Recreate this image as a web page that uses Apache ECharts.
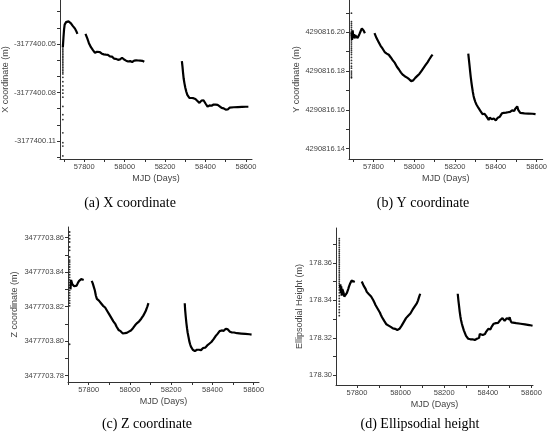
<!DOCTYPE html>
<html>
<head>
<meta charset="utf-8">
<script src="https://cdn.jsdelivr.net/npm/echarts@6/dist/echarts.min.js"></script>
<style>
  html, body { margin: 0; padding: 0; background: #fff; }
  #chart { width: 550px; height: 438px; }
</style>
</head>
<body>
<div id="chart"></div>
<script>
// offsets are added to these bases for the tick labels
const X_BASE = -3177400;
const Y_BASE = 4290816;
const Z_BASE = 3477703;
const H_BASE = 178;

const captions = ["(a) X coordinate", "(b) Y coordinate", "(c) Z coordinate", "(d) Ellipsodial height"];
const yNames = ["X coordinate (m)", "Y coordinate (m)", "Z coordinate (m)", "Ellipsodial Height (m)"];
const mjdTicks = [57800, 58000, 58200, 58400, 58600];
const mjdMinor = [57700, 57800, 57900, 58000, 58100, 58200, 58300, 58400, 58500, 58600];

// (a) X coordinate, null = data gap
const mjdA = [57694, 57697, 57700, 57703, 57706, 57710, 57714, 57718, 57722, 57726, 57730, 57734, 57738, 57742, 57746, 57750, 57754, 57758, 57762, 57766,
  null,
  57806, 57810, 57815, 57819, 57823, 57828, 57833, 57838, 57843, 57848, 57853, 57858, 57863, 57868, 57872, 57877, 57882, 57887, 57892, 57897,
  57902, 57907, 57912, 57917, 57922, 57927, 57932, 57937, 57942, 57947, 57952, 57957, 57962, 57967, 57972, 57977, 57982, 57987, 57992, 57997,
  58002, 58007, 58012, 58017, 58022, 58027, 58032, 58037, 58042, 58047, 58052, 58057, 58062, 58067, 58072, 58077, 58082, 58087, 58092, 58097,
  null,
  58283, 58286, 58289, 58292, 58296, 58300, 58305, 58310, 58315, 58320, 58325, 58330, 58335, 58340, 58345, 58350, 58355, 58360, 58365, 58370,
  58375, 58380, 58385, 58390, 58395, 58400, 58405, 58410, 58415, 58420, 58425, 58430, 58435, 58440, 58445, 58450, 58455, 58460, 58465, 58470,
  58475, 58480, 58485, 58490, 58495, 58500, 58505, 58510, 58515, 58520, 58525, 58540, 58560, 58580, 58600, 58612];
const valA = [-0.052, -0.046, -0.041, -0.038, -0.037, -0.0365, -0.037, -0.0358, -0.036, -0.0362, -0.0368, -0.0372, -0.038, -0.0386, -0.039, -0.0397, -0.0405, -0.0415, -0.0425, -0.0437,
  null,
  -0.0437, -0.0448, -0.0465, -0.048, -0.0495, -0.0505, -0.052, -0.0532, -0.0538, -0.0548, -0.0555, -0.0553, -0.0548, -0.0542, -0.0545, -0.055, -0.0556, -0.056, -0.0565, -0.0564,
  -0.0568, -0.0566, -0.0563, -0.0567, -0.0572, -0.0576, -0.058, -0.0578, -0.0584, -0.059, -0.0594, -0.0592, -0.0596, -0.0598, -0.0591, -0.0595, -0.0588, -0.0585, -0.059, -0.0596,
  -0.06, -0.0603, -0.0605, -0.0608, -0.061, -0.0606, -0.0609, -0.0611, -0.0607, -0.0603, -0.06, -0.0601, -0.0604, -0.0602, -0.06, -0.0603, -0.0601, -0.0604, -0.0608, -0.061,
  null,
  -0.0606, -0.064, -0.068, -0.0715, -0.0745, -0.077, -0.0795, -0.0815, -0.0826, -0.0833, -0.083, -0.0834, -0.0831, -0.0835, -0.0834, -0.084, -0.0846, -0.0852, -0.0858, -0.0864,
  -0.0858, -0.085, -0.0855, -0.0848, -0.0856, -0.0868, -0.088, -0.0887, -0.0886, -0.088, -0.0884, -0.0882, -0.0876, -0.0874, -0.0878, -0.0875, -0.0872, -0.0876, -0.088, -0.0885,
  -0.089, -0.0895, -0.0893, -0.0898, -0.0902, -0.0906, -0.0912, -0.0905, -0.0898, -0.0893, -0.0891, -0.0891, -0.089, -0.0889, -0.0888, -0.0888];
const dotMjdA = 57694;
const dotValA = [-0.0505, -0.0515, -0.0525, -0.0535, -0.0545, -0.0555, -0.0565, -0.0575, -0.0585, -0.0595, -0.0605, -0.0615, -0.0625, -0.0635, -0.0645,
  -0.0655, -0.0665, -0.0675, -0.0685, -0.0706, -0.0733, -0.0759, -0.0784, -0.0804, -0.0829, -0.0886, -0.0937, -0.0967, -0.1049, -0.111, -0.1131, -0.1192];

// (b) Y coordinate
const mjdB = [57692, 57695, 57698, 57701, 57704, 57707, 57710, 57713, 57716, 57719, 57722, 57725, 57728, 57731, 57734, 57737, 57740, 57743, 57746, 57749, 57752, 57755, 57758,
  null,
  57805, 57810, 57815, 57820, 57825, 57830, 57835, 57840, 57845, 57850, 57855, 57860, 57865, 57870, 57875, 57880, 57885, 57890, 57895, 57900,
  57905, 57910, 57915, 57920, 57925, 57930, 57935, 57940, 57945, 57950, 57955, 57960, 57965, 57970, 57975, 57980, 57985, 57990, 57995, 58000,
  58005, 58010, 58015, 58020, 58025, 58030, 58035, 58040, 58045, 58050, 58055, 58060, 58065, 58070, 58075, 58080, 58085, 58090,
  null,
  58265, 58268, 58271, 58274, 58277, 58280, 58283, 58287, 58291, 58295, 58300, 58305, 58310, 58315, 58320, 58325, 58330, 58335, 58340, 58345,
  58350, 58355, 58360, 58365, 58370, 58375, 58380, 58385, 58390, 58395, 58400, 58405, 58410, 58415, 58420, 58425, 58430, 58435, 58440, 58445,
  58450, 58455, 58460, 58465, 58470, 58475, 58480, 58485, 58490, 58495, 58500, 58505, 58510, 58515, 58520, 58540, 58560, 58580, 58595];
const valB = [0.2, 0.196, 0.201, 0.1975, 0.199, 0.1968, 0.1985, 0.1975, 0.199, 0.1983, 0.197, 0.1962, 0.1975, 0.199, 0.1998, 0.2005, 0.2015, 0.202, 0.2012, 0.2018, 0.2008, 0.2003, 0.1995,
  null,
  0.1995, 0.1985, 0.197, 0.1962, 0.195, 0.194, 0.193, 0.1922, 0.1915, 0.1905, 0.1898, 0.1893, 0.189, 0.1888, 0.1884, 0.1878, 0.187, 0.1862, 0.1855, 0.185,
  0.1842, 0.1832, 0.1822, 0.1815, 0.1808, 0.18, 0.1792, 0.1785, 0.178, 0.1778, 0.1772, 0.177, 0.1766, 0.1763, 0.1758, 0.1752, 0.1748, 0.1746, 0.1752, 0.176,
  0.1765, 0.177, 0.1775, 0.178, 0.1785, 0.1792, 0.18, 0.1806, 0.1815, 0.1822, 0.183, 0.1838, 0.1845, 0.1852, 0.1862, 0.187, 0.1878, 0.1885,
  null,
  0.189, 0.186, 0.183, 0.18, 0.177, 0.1745, 0.1722, 0.1695, 0.1672, 0.1655, 0.164, 0.1628, 0.1618, 0.161, 0.1602, 0.1594, 0.1586, 0.1578, 0.1575, 0.158,
  0.1573, 0.1565, 0.1555, 0.1548, 0.156, 0.1558, 0.1552, 0.156, 0.1556, 0.155, 0.1546, 0.1556, 0.156, 0.1558, 0.1565, 0.157, 0.1582, 0.1588, 0.1585, 0.159,
  0.1586, 0.1592, 0.1588, 0.1595, 0.159, 0.1594, 0.1598, 0.16, 0.1594, 0.1605, 0.1612, 0.1618, 0.16, 0.159, 0.1585, 0.1582, 0.1581, 0.158, 0.1578];
const dotMjdB = 57692;
const dotValB = [0.2098, 0.2055, 0.2045, 0.2035, 0.2025, 0.2015, 0.2005, 0.1995, 0.1985, 0.1975, 0.1965, 0.1955, 0.1945, 0.1935, 0.1925,
  0.1915, 0.1905, 0.1895, 0.1885, 0.187, 0.1855, 0.184, 0.1825, 0.1815, 0.18, 0.179, 0.178, 0.177, 0.1765];

// (c) Z coordinate
const mjdC = [57712, 57715, 57718, 57721, 57724, 57727, 57730, 57733, 57736, 57739, 57742, 57745, 57748, 57751, 57754, 57757, 57760, 57764, 57768, 57772, 57776,
  null,
  57815, 57820, 57825, 57830, 57835, 57840, 57845, 57850, 57855, 57860, 57865, 57870, 57875, 57880, 57885, 57890, 57895, 57900, 57905, 57910,
  57915, 57920, 57925, 57930, 57935, 57940, 57945, 57950, 57955, 57960, 57965, 57970, 57975, 57980, 57985, 57990, 57995, 58000, 58005, 58010,
  58015, 58020, 58025, 58030, 58035, 58040, 58045, 58050, 58055, 58060, 58065, 58070, 58075, 58080, 58085, 58090,
  null,
  58266, 58268, 58271, 58274, 58277, 58280, 58284, 58288, 58292, 58296, 58300, 58305, 58310, 58315, 58320, 58325, 58330, 58335, 58340, 58345,
  58350, 58355, 58360, 58365, 58370, 58375, 58380, 58385, 58390, 58395, 58400, 58405, 58410, 58415, 58420, 58425, 58430, 58435, 58440, 58445,
  58450, 58455, 58460, 58465, 58470, 58475, 58480, 58485, 58490, 58495, 58500, 58505, 58510, 58520, 58540, 58560, 58580, 58590];
const valC = [0.83, 0.8355, 0.8345, 0.833, 0.8335, 0.8325, 0.8318, 0.8312, 0.831, 0.8315, 0.8322, 0.833, 0.8338, 0.8344, 0.835, 0.8355, 0.8358, 0.836, 0.8356, 0.8352, 0.8355,
  null,
  0.835, 0.8335, 0.8315, 0.8295, 0.8265, 0.8245, 0.824, 0.8235, 0.8228, 0.822, 0.8215, 0.8205, 0.82, 0.8195, 0.8185, 0.8175, 0.8165, 0.8155, 0.8145, 0.8135,
  0.8125, 0.8115, 0.8105, 0.8098, 0.8085, 0.8075, 0.8065, 0.806, 0.8058, 0.8054, 0.8045, 0.8043, 0.8046, 0.805, 0.8048, 0.8052, 0.8055, 0.8058, 0.8062, 0.8068,
  0.8075, 0.8085, 0.8092, 0.8098, 0.8105, 0.8112, 0.8115, 0.8122, 0.813, 0.8138, 0.8148, 0.8158, 0.817, 0.8185, 0.8202, 0.822,
  null,
  0.822, 0.818, 0.814, 0.8105, 0.8075, 0.805, 0.8025, 0.8, 0.7982, 0.7968, 0.7957, 0.795, 0.7945, 0.7942, 0.7944, 0.795, 0.7953, 0.795, 0.7954, 0.7948,
  0.7955, 0.796, 0.7958, 0.7962, 0.797, 0.7975, 0.798, 0.7985, 0.799, 0.7995, 0.8002, 0.801, 0.8018, 0.8028, 0.8035, 0.8042, 0.805, 0.8058, 0.8065, 0.8062,
  0.8055, 0.806, 0.8068, 0.8072, 0.8075, 0.8068, 0.8062, 0.8055, 0.8058, 0.805, 0.8048, 0.805, 0.8046, 0.8046, 0.8044, 0.8042, 0.804, 0.8038];
const dotMjdC = 57708;
const dotValC = [0.8633, 0.8614, 0.8594, 0.8575, 0.8546, 0.8527, 0.8488, 0.847, 0.8459, 0.8445, 0.843, 0.8415, 0.84, 0.8385, 0.837, 0.8355, 0.834,
  0.8325, 0.831, 0.8295, 0.828, 0.8265, 0.825, 0.8235, 0.822, 0.8205, 0.7982];

// (d) Ellipsoidal height
const mjdD = [57722, 57724, 57726, 57728, 57730, 57733, 57736, 57739, 57742, 57745, 57748, 57751, 57754, 57757, 57760, 57763, 57766, 57769, 57772, 57775, 57778, 57782, 57786, 57790,
  null,
  57822, 57826, 57830, 57835, 57840, 57845, 57850, 57855, 57860, 57865, 57870, 57875, 57880, 57885, 57890, 57895, 57900, 57905, 57910, 57915,
  57920, 57925, 57930, 57935, 57940, 57945, 57950, 57955, 57960, 57965, 57970, 57975, 57980, 57985, 57990, 57995, 58000, 58005, 58010, 58015,
  58020, 58025, 58030, 58035, 58040, 58045, 58050, 58055, 58060, 58065, 58070, 58075, 58080, 58085, 58090,
  null,
  58262, 58265, 58268, 58271, 58274, 58277, 58281, 58285, 58290, 58295, 58300, 58305, 58310, 58315, 58320, 58325, 58330, 58335, 58340, 58345,
  58350, 58355, 58360, 58363, 58367, 58372, 58377, 58382, 58387, 58392, 58397, 58402, 58407, 58412, 58417, 58422, 58427, 58432, 58437, 58442,
  58447, 58452, 58457, 58462, 58467, 58472, 58477, 58482, 58487, 58492, 58497, 58500, 58503, 58508, 58515, 58530, 58550, 58570, 58590, 58605];
const valD = [0.347, 0.3485, 0.344, 0.3475, 0.3425, 0.346, 0.347, 0.344, 0.342, 0.3415, 0.341, 0.3425, 0.344, 0.345, 0.346, 0.3472, 0.3482, 0.349, 0.35, 0.3505, 0.35, 0.3505, 0.35, 0.3498,
  null,
  0.35, 0.349, 0.348, 0.347, 0.346, 0.3445, 0.3438, 0.3432, 0.3428, 0.342, 0.341, 0.34, 0.3388, 0.3375, 0.3365, 0.3355, 0.3345, 0.3335, 0.3322, 0.331,
  0.33, 0.329, 0.328, 0.3272, 0.3268, 0.3265, 0.3262, 0.3258, 0.3255, 0.325, 0.3252, 0.3248, 0.3245, 0.3242, 0.324, 0.3248, 0.3258, 0.3265, 0.3275, 0.3285,
  0.3295, 0.3305, 0.3312, 0.3318, 0.3322, 0.333, 0.334, 0.335, 0.336, 0.3368, 0.3375, 0.3385, 0.34, 0.3418, 0.3435,
  null,
  0.3435, 0.34, 0.337, 0.334, 0.3315, 0.3295, 0.3275, 0.3258, 0.324, 0.3225, 0.321, 0.32, 0.3195, 0.319, 0.3192, 0.3188, 0.3192, 0.319, 0.3188, 0.3192,
  0.3195, 0.3193, 0.32, 0.322, 0.3212, 0.321, 0.3215, 0.3212, 0.322, 0.3232, 0.324, 0.3248, 0.3252, 0.3245, 0.3258, 0.3268, 0.3275, 0.3282, 0.3278, 0.3282,
  0.328, 0.3288, 0.3295, 0.33, 0.3305, 0.3298, 0.329, 0.33, 0.3305, 0.331, 0.3298, 0.331, 0.3295, 0.3282, 0.328, 0.3278, 0.3275, 0.3272, 0.3268, 0.3264];
const dotMjdD = 57719;
const dotValD = [0.3729, 0.3718, 0.3706, 0.3694, 0.3682, 0.367, 0.366, 0.365, 0.364, 0.363, 0.362, 0.361, 0.36, 0.359, 0.358, 0.357, 0.356, 0.355, 0.354,
  0.353, 0.352, 0.351, 0.35, 0.349, 0.348, 0.3468, 0.3455, 0.344, 0.3425, 0.341, 0.3395, 0.338, 0.3365, 0.335, 0.3335, 0.3318];

const panels = [
  { base: X_BASE, mjd: mjdA, val: valA, dotMjd: dotMjdA, dotVal: dotValA,
    grid: { left: 56, top: 0, width: 196, height: 159 }, xMin: 57680, xMax: 58630,
    yMin: -0.1211, yMax: -0.0228, yLabels: [-0.11, -0.08, -0.05],
    yTicks: [-0.12, -0.11, -0.1, -0.09, -0.08, -0.07, -0.06, -0.05, -0.04, -0.03], nameGap: 46, cap: [130, 203] },
  { base: Y_BASE, mjd: mjdB, val: valB, dotMjd: dotMjdB, dotVal: dotValB,
    grid: { left: 349, top: 0, width: 196, height: 159 }, xMin: 57680, xMax: 58630,
    yMin: 0.1347, yMax: 0.2166, yLabels: [0.14, 0.16, 0.18, 0.2],
    yTicks: [0.14, 0.15, 0.16, 0.17, 0.18, 0.19, 0.2, 0.21], nameGap: 45, cap: [423, 203] },
  { base: Z_BASE, mjd: mjdC, val: valC, dotMjd: dotMjdC, dotVal: dotValC,
    grid: { left: 68, top: 227, width: 191, height: 155 }, xMin: 57700, xMax: 58626,
    yMin: 0.7763, yMax: 0.8662, yLabels: [0.78, 0.8, 0.82, 0.84, 0.86],
    yTicks: [0.78, 0.79, 0.8, 0.81, 0.82, 0.83, 0.84, 0.85, 0.86], nameGap: 49, cap: [147, 424] },
  { base: H_BASE, mjd: mjdD, val: valD, dotMjd: dotMjdD, dotVal: dotValD,
    grid: { left: 336, top: 228, width: 197, height: 157 }, xMin: 57704, xMax: 58607,
    yMin: 0.2948, yMax: 0.3786, yLabels: [0.3, 0.32, 0.34, 0.36],
    yTicks: [0.3, 0.31, 0.32, 0.33, 0.34, 0.35, 0.36, 0.37], nameGap: 32, cap: [420, 424] }
];

const labelStyle = { color: "#444", fontSize: 7.5, fontFamily: "Liberation Sans" };
const axisLine = { lineStyle: { color: "#333", width: 1 } };

const option = {
  backgroundColor: "#fff",
  animation: false,
  grid: panels.map(p => p.grid),
  xAxis: panels.map((p, i) => ({
    type: "value", gridIndex: i, min: p.xMin, max: p.xMax,
    name: "MJD (Days)", nameLocation: "middle", nameGap: 15,
    nameTextStyle: { color: "#444", fontSize: 9, fontFamily: "Liberation Sans" },
    axisLine, splitLine: { show: false },
    axisTick: { customValues: mjdMinor, length: 3, lineStyle: { color: "#333" } },
    axisLabel: { ...labelStyle, customValues: mjdTicks, margin: 4, formatter: v => String(v) }
  })),
  yAxis: panels.map((p, i) => ({
    type: "value", gridIndex: i, min: p.yMin, max: p.yMax,
    name: yNames[i], nameLocation: "middle", nameGap: p.nameGap,
    nameTextStyle: { color: "#444", fontSize: 9, fontFamily: "Liberation Sans" },
    axisLine: { show: true, ...axisLine }, splitLine: { show: false },
    axisTick: { show: true, customValues: p.yTicks, length: 3, lineStyle: { color: "#333" } },
    axisLabel: { ...labelStyle, customValues: p.yLabels, margin: 4,
      formatter: v => (p.base + v).toFixed(2) }
  })),
  series: panels.flatMap((p, i) => [
    {
      type: "line", xAxisIndex: i, yAxisIndex: i, showSymbol: false, connectNulls: false,
      lineStyle: { color: "#000", width: 2.2 },
      data: p.mjd.map((m, k) => m == null ? ["-", "-"] : [m, p.val[k]])
    },
    {
      type: "scatter", xAxisIndex: i, yAxisIndex: i, symbolSize: 1.8,
      itemStyle: { color: "#000" },
      data: p.dotVal.map(v => [p.dotMjd, v])
    }
  ]),
  graphic: panels.map((p, i) => ({
    type: "text", x: p.cap[0], y: p.cap[1],
    style: { text: captions[i], fill: "#000", font: "14px 'Liberation Serif'", textAlign: "center", textVerticalAlign: "middle" }
  }))
};

const chart = echarts.init(document.getElementById("chart"));
chart.setOption(option);
</script>
</body>
</html>
